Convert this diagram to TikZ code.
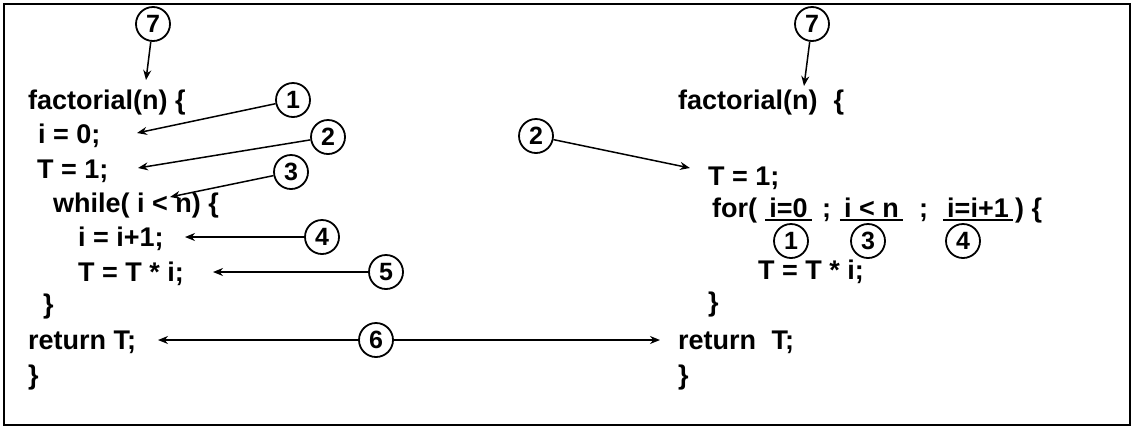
\documentclass[tikz,border=0pt]{standalone}
\usepackage{fontspec}
\setmainfont{Liberation Sans}
\usetikzlibrary{arrows.meta}
\newcommand{\codefnt}{\fontsize{27}{32}\selectfont\bfseries}
\newcommand{\numfnt}{\fontsize{25}{28}\selectfont\bfseries}
\tikzset{
  code/.style={font=\codefnt, anchor=base west, inner sep=0pt},
  ucode/.style={font=\codefnt, anchor=base, inner xsep=4pt, inner ysep=0pt},
  num/.style={circle, draw, line width=1.8pt, minimum size=34pt, inner sep=0pt, font=\numfnt},
  arr/.style={-{Stealth[length=10pt,width=8pt]}, line width=1.5pt},
  uline/.style={line width=1.5pt},
  frame/.style={line width=2.2pt}
}
\begin{document}
\begin{tikzpicture}[x=1pt,y=-1pt]
\useasboundingbox (0,0) rectangle (1134,429);
\draw[frame] (4,4) rectangle (1130,425);

% ---- left program ----
\node[code] (Lfact) at (28,109) {factorial(n) \{};
\node[code] (Li0)   at (38,143) {i = 0;};
\node[code] (LT1)   at (37,178) {T = 1;};
\node[code] (Lwh)   at (53,212) {while( i < n) \{};
\node[code] (Linc)  at (78,246) {i = i+1;};
\node[code] (Lmul)  at (78,281) {T = T * i;};
\node[code] (Lcl1)  at (43,313) {\}};
\node[code] (Lret)  at (28,349) {return T;};
\node[code] (Lcl2)  at (28,384) {\}};

\node[num] (L7) at (153,24) {7};
\node[num] (L1) at (293,100) {1};
\node[num] (L2) at (328,137) {2};
\node[num] (L3) at (291,172) {3};
\node[num] (L4) at (322,237) {4};
\node[num] (L5) at (386,272) {5};
\node[num] (C6) at (376,340) {6};

\coordinate (tL7) at (146,80);
\coordinate (tL1) at (137,133);
\coordinate (tL2) at (138,168);
\coordinate (tL3) at (170,197);
\coordinate (tL4) at (185,237);
\coordinate (tL5) at (213,272);
\coordinate (tL6) at (158,340);

\draw[arr] (L7) -- (tL7);
\draw[arr] (L1) -- (tL1);
\draw[arr] (L2) -- (tL2);
\draw[arr] (L3) -- (tL3);
\draw[arr] (L4) -- (tL4);
\draw[arr] (L5) -- (tL5);
\draw[arr] (C6) -- (tL6);

% ---- right program ----
\node[code] (Rfact) at (678,109) {factorial(n)\hspace{16pt}\{};
\node[code] (RT1)   at (708,185) {T = 1;};
\node[code] (Rfor)  at (712,217) {for(};
\node[ucode] (Rf1)  at (788.5,217) {i=0};
\node[code] (Rs1)   at (822,217) {;};
\node[ucode] (Rf3)  at (871.5,217) {i < n};
\node[code] (Rs2)   at (919,217) {;};
\node[ucode] (Rf4)  at (978,217) {i=i+1};
\node[code] (Rend)  at (1015,217) {) \{};
\node[code] (RTm)   at (758,279) {T = T * i;};
\node[code] (Rcl1)  at (708,311) {\}};
\node[code] (Rret)  at (678,349) {return\hspace{8pt} T;};
\node[code] (Rcl2)  at (678,384) {\}};

\draw[uline] ([yshift=-3pt]Rf1.base west) -- ([yshift=-3pt]Rf1.base east);
\draw[uline] ([yshift=-3pt]Rf3.base west) -- ([yshift=-3pt]Rf3.base east);
\draw[uline] ([yshift=-3pt]Rf4.base west) -- ([yshift=-3pt]Rf4.base east);

\node[num] (R7) at (812,24) {7};
\node[num] (R2) at (536,136) {2};
\node[num] (R1) at (791,241) {1};
\node[num] (R3) at (868,241) {3};
\node[num] (R4) at (963,241) {4};

\coordinate (tR7) at (804,86);
\coordinate (tR2) at (690,168);
\coordinate (tR6) at (660,340);

\draw[arr] (R7) -- (tR7);
\draw[arr] (R2) -- (tR2);
\draw[arr] (C6) -- (tR6);
\end{tikzpicture}
\end{document}
